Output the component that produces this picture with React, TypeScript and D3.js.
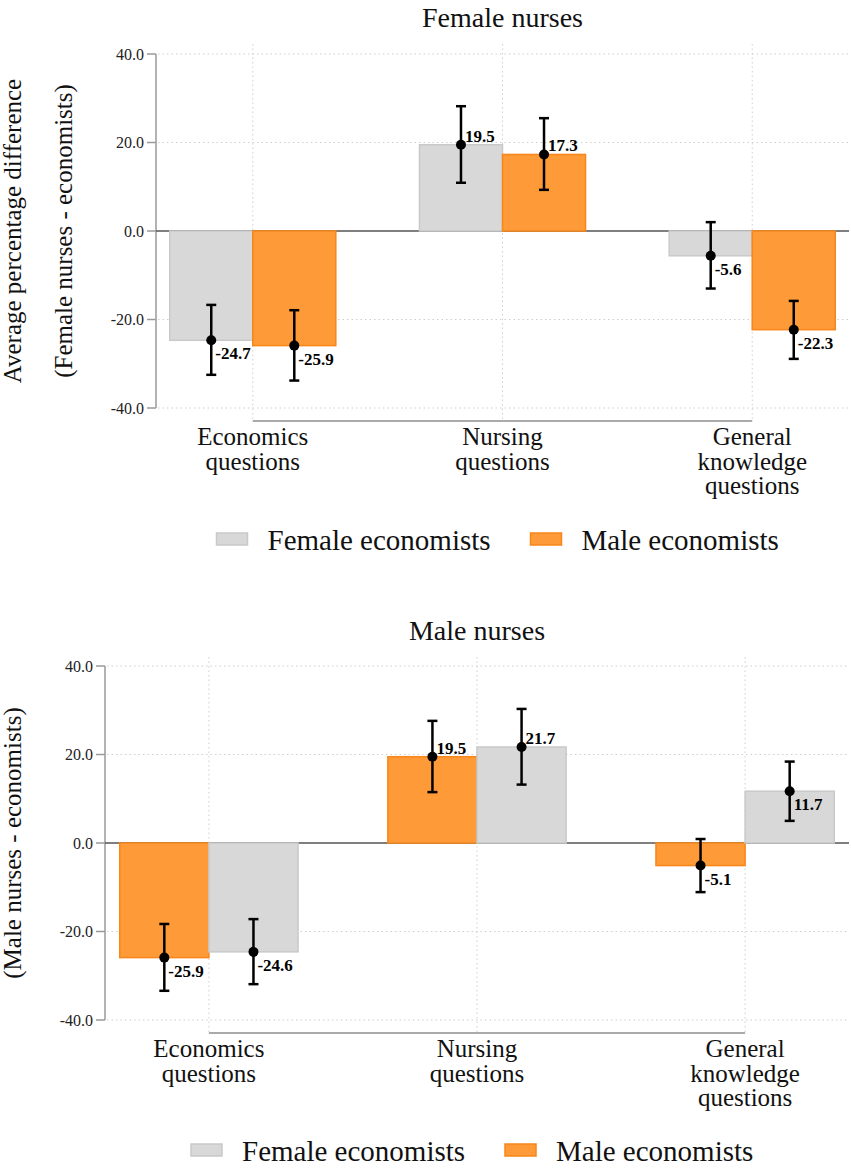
import * as d3 from 'd3'

// categories (tick labels, split into lines)
const CATEGORY_LINES: string[][] = [
  ['Economics', 'questions'],
  ['Nursing', 'questions'],
  ['General', 'knowledge', 'questions'],
]
const CATEGORIES = CATEGORY_LINES.map(l => l.join(' '))
const Y_TICKS = [-40, -20, 0, 20, 40]
const SERIES = ['Female economists', 'Male economists']

// Female nurses panel
const FN_FEMALE_ECON = [-24.7, 19.5, -5.6]
const FN_FEMALE_ECON_LO = [-32.5, 10.9, -13.0]
const FN_FEMALE_ECON_HI = [-16.7, 28.2, 2.0]
const FN_MALE_ECON = [-25.9, 17.3, -22.3]
const FN_MALE_ECON_LO = [-33.8, 9.3, -28.9]
const FN_MALE_ECON_HI = [-17.9, 25.5, -15.8]

// Male nurses panel
const MN_MALE_ECON = [-25.9, 19.5, -5.1]
const MN_MALE_ECON_LO = [-33.4, 11.5, -11.1]
const MN_MALE_ECON_HI = [-18.3, 27.6, 0.9]
const MN_FEMALE_ECON = [-24.6, 21.7, 11.7]
const MN_FEMALE_ECON_LO = [-31.9, 13.2, 5.0]
const MN_FEMALE_ECON_HI = [-17.2, 30.3, 18.4]

const COLORS: Record<string, { fill: string; stroke: string }> = {
  'Female economists': { fill: '#d8d8d8', stroke: '#c9c9c9' },
  'Male economists': { fill: '#fe9a37', stroke: '#f8861a' },
}

const FONT = "'Liberation Serif', 'Times New Roman', Times, 'DejaVu Serif', serif"

type Series = { name: string; values: number[]; lo: number[]; hi: number[] }

type PanelProps = {
  title: string
  yLabel: string[]
  series: Series[]
  titleY: number
  plotTop: number
  plotBottom: number
  axisX: number
  right: number
  xAxisY: number
  gridTop: number
  catBaseline: number
  legendY: number
}

// d3 uses a unicode minus; the reference uses a plain hyphen
const fmt = (v: number) => d3.format('.1f')(v).replace('\u2212', '-')

function Panel(p: PanelProps) {
  const y = d3.scaleLinear().domain([-40, 40]).range([p.plotBottom, p.plotTop])
  const x = d3.scaleBand<string>()
    .domain(CATEGORIES)
    .range([p.axisX, p.right])
    .paddingInner(0.335)
    .paddingOuter(0.055)
  const sub = d3.scaleBand<string>()
    .domain(p.series.map(s => s.name))
    .range([0, x.bandwidth()])
  const center = (c: string) => (x(c) as number) + x.bandwidth() / 2
  const mid = (p.axisX + p.right) / 2
  const yLabelX = p.yLabel.length > 1 ? [21, 72] : [21]

  return (
    <g style={{ fontFamily: FONT }}>
      {/* title */}
      <text x={mid} y={p.titleY} textAnchor="middle" fontSize={28} fill="#111">{p.title}</text>

      {/* y axis title */}
      {p.yLabel.map((line, i) => (
        <text
          key={line}
          transform={`translate(${yLabelX[i]}, ${(p.plotTop + p.plotBottom) / 2}) rotate(-90)`}
          textAnchor="middle"
          fontSize={25}
          fill="#111"
        >
          {line}
        </text>
      ))}

      {/* horizontal grid */}
      {Y_TICKS.filter(t => t !== 0).map(t => (
        <line key={`hg-${t}`} x1={p.axisX + 2} x2={p.right} y1={y(t)} y2={y(t)}
          stroke="#cfcfcf" strokeWidth={1} strokeDasharray="1.5,3" />
      ))}
      {/* vertical grid at category centres */}
      {CATEGORIES.map(c => (
        <line key={`vg-${c}`} x1={center(c)} x2={center(c)} y1={p.gridTop} y2={p.xAxisY}
          stroke="#cfcfcf" strokeWidth={1} strokeDasharray="1.5,3" />
      ))}

      {/* y axis */}
      <line x1={p.axisX} x2={p.axisX} y1={y(40)} y2={y(-40)} stroke="#9a9a9a" strokeWidth={1.5} />
      {Y_TICKS.map(t => (
        <g key={`yt-${t}`}>
          <line x1={p.axisX - 9} x2={p.axisX} y1={y(t)} y2={y(t)} stroke="#9a9a9a" strokeWidth={1.5} />
          <text x={p.axisX - 12} y={y(t)} dy="0.35em" textAnchor="end" fontSize={16} fill="#222">
            {fmt(t)}
          </text>
        </g>
      ))}

      {/* zero line */}
      <line x1={p.axisX} x2={p.right} y1={y(0)} y2={y(0)} stroke="#555" strokeWidth={1.5} />

      {/* bars */}
      {p.series.map(s => CATEGORIES.map((c, i) => {
        const v = s.values[i]
        const bx = (x(c) as number) + (sub(s.name) as number)
        return (
          <rect key={`b-${s.name}-${c}`} x={bx} width={sub.bandwidth()}
            y={Math.min(y(v), y(0))} height={Math.abs(y(v) - y(0))}
            fill={COLORS[s.name].fill} stroke={COLORS[s.name].stroke} strokeWidth={1.5} />
        )
      }))}

      {/* error bars, points and value labels */}
      {p.series.map(s => CATEGORIES.map((c, i) => {
        const cx = (x(c) as number) + (sub(s.name) as number) + sub.bandwidth() / 2
        const v = s.values[i]
        const above = v > 15
        return (
          <g key={`e-${s.name}-${c}`}>
            <line x1={cx} x2={cx} y1={y(s.hi[i])} y2={y(s.lo[i])} stroke="#000" strokeWidth={2.5} />
            <line x1={cx - 5} x2={cx + 5} y1={y(s.hi[i])} y2={y(s.hi[i])} stroke="#000" strokeWidth={2.5} />
            <line x1={cx - 5} x2={cx + 5} y1={y(s.lo[i])} y2={y(s.lo[i])} stroke="#000" strokeWidth={2.5} />
            <circle cx={cx} cy={y(v)} r={5} fill="#000" />
            <text x={cx + 4} y={y(v) + (above ? -3 : 19)} fontSize={17} fontWeight="bold" fill="#000">
              {fmt(v)}
            </text>
          </g>
        )
      }))}

      {/* x axis */}
      <line x1={center(CATEGORIES[0])} x2={center(CATEGORIES[CATEGORIES.length - 1])}
        y1={p.xAxisY} y2={p.xAxisY} stroke="#aaa" strokeWidth={2} />
      {CATEGORY_LINES.map((lines, i) => (
        <text key={`xl-${i}`} x={center(CATEGORIES[i])} y={p.catBaseline} textAnchor="middle" fontSize={25} fill="#111">
          {lines.map((l, j) => (
            <tspan key={l} x={center(CATEGORIES[i])} dy={j === 0 ? 0 : 24.5}>{l}</tspan>
          ))}
        </text>
      ))}

      {/* legend */}
      {SERIES.map((name, i) => {
        const sx = mid + (i === 0 ? -286 : 28)
        return (
          <g key={`lg-${name}`}>
            <rect x={sx} y={p.legendY} width={31} height={12}
              fill={COLORS[name].fill} stroke={COLORS[name].stroke} strokeWidth={1.5} />
            <text x={sx + 51} y={p.legendY + 17} fontSize={29} fill="#111">{name}</text>
          </g>
        )
      })}
    </g>
  )
}

export default function App() {
  return (
    <svg width={851} height={1169} style={{ position: 'absolute', left: 0, top: 0, background: '#fff' }}>
      <rect width={851} height={1169} fill="#fff" />
      <Panel
        title="Female nurses"
        yLabel={['Average percentage difference', '(Female nurses - economists)']}
        series={[
          { name: 'Female economists', values: FN_FEMALE_ECON, lo: FN_FEMALE_ECON_LO, hi: FN_FEMALE_ECON_HI },
          { name: 'Male economists', values: FN_MALE_ECON, lo: FN_MALE_ECON_LO, hi: FN_MALE_ECON_HI },
        ]}
        titleY={27}
        plotTop={54}
        plotBottom={408}
        axisX={156}
        right={849}
        xAxisY={421}
        gridTop={44}
        catBaseline={445}
        legendY={533}
      />
      <Panel
        title="Male nurses"
        yLabel={['(Male nurses - economists)']}
        series={[
          { name: 'Male economists', values: MN_MALE_ECON, lo: MN_MALE_ECON_LO, hi: MN_MALE_ECON_HI },
          { name: 'Female economists', values: MN_FEMALE_ECON, lo: MN_FEMALE_ECON_LO, hi: MN_FEMALE_ECON_HI },
        ]}
        titleY={640}
        plotTop={666}
        plotBottom={1020}
        axisX={105}
        right={849}
        xAxisY={1033}
        gridTop={657}
        catBaseline={1057}
        legendY={1144}
      />
    </svg>
  )
}
